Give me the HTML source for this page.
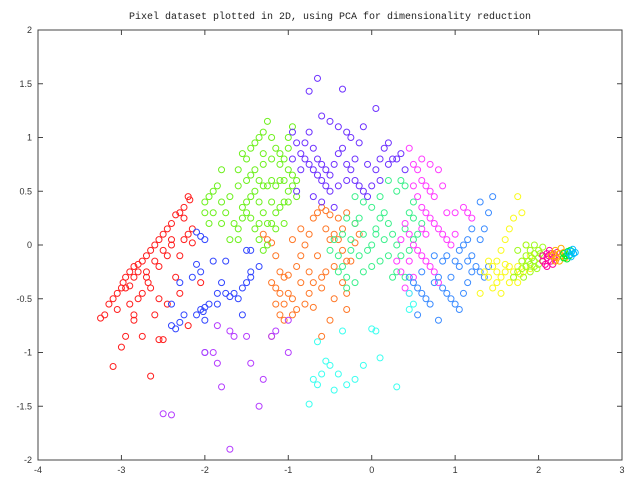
<!DOCTYPE html>
<html><head><meta charset="utf-8"><style>
body{margin:0;background:#fff;}
svg{display:block;}
</style></head><body>
<svg id="chart" width="640" height="480" xmlns="http://www.w3.org/2000/svg">
<rect width="640" height="480" fill="#fff"/>
<text x="330" y="19" text-anchor="middle" font-family="Liberation Mono, monospace" font-size="10" fill="#222">Pixel dataset plotted in 2D, using PCA for dimensionality reduction</text>
<g id="marks"></g>
<g id="axes"></g>
</svg>
<script>
const xTicks=[-4,-3,-2,-1,0,1,2,3];
const yTicks=[-2,-1.5,-1,-0.5,0,0.5,1,1.5,2];
const xTickLabels=["-4","-3","-2","-1","0","1","2","3"];
const yTickLabels=["-2","-1.5","-1","-0.5","0","0.5","1","1.5","2"];
const colors=["rgb(255,30,30)","rgb(50,70,255)","rgb(255,120,40)","rgb(110,240,30)","rgb(110,50,255)","rgb(180,60,255)","rgb(60,240,140)","rgb(255,60,255)","rgb(60,140,255)","rgb(60,255,240)","rgb(250,250,30)","rgb(160,250,30)","rgb(255,0,160)","rgb(255,170,0)","rgb(0,240,40)","rgb(0,190,255)"];
const red=[[-3.25,-0.68],[-3.2,-0.65],[-3.15,-0.55],[-3.1,-0.5],[-3.05,-0.45],[-3.0,-0.4],[-2.98,-0.35],[-2.95,-0.3],[-2.9,-0.25],[-2.85,-0.2],[-2.8,-0.18],[-2.75,-0.15],[-2.7,-0.1],[-2.65,-0.05],[-2.6,0.0],[-2.55,0.05],[-2.5,0.1],[-2.45,0.15],[-2.4,0.2],[-2.35,0.28],[-2.3,0.3],[-2.25,0.35],[-2.2,0.45],[-2.18,0.42],[-2.95,-0.4],[-2.9,-0.38],[-2.85,-0.3],[-2.8,-0.25],[-2.7,-0.25],[-2.7,-0.3],[-2.68,-0.35],[-2.65,-0.4],[-2.75,-0.45],[-2.8,-0.5],[-2.9,-0.55],[-3.05,-0.6],[-2.85,-0.7],[-2.6,-0.65],[-2.45,-0.55],[-2.35,-0.3],[-2.3,-0.1],[-2.25,0.05],[-2.2,0.1],[-2.15,0.15],[-2.4,0.0],[-2.5,-0.05],[-2.6,-0.15],[-2.55,-0.2],[-2.45,-0.1],[-2.75,-0.85],[-3.0,-0.95],[-3.1,-1.13],[-2.65,-1.22],[-2.5,-0.88],[-2.55,-0.88],[-2.2,-0.75],[-2.05,-0.35],[-2.85,-0.65],[-2.4,0.05],[-2.15,0.02],[-2.25,0.25],[-2.55,-0.5],[-2.95,-0.85],[-2.3,-0.45]];
const blue=[[-2.4,-0.75],[-2.35,-0.78],[-2.3,-0.72],[-2.25,-0.65],[-2.4,-0.55],[-2.05,-0.6],[-2.0,-0.58],[-2.02,-0.62],[-1.95,-0.55],[-2.1,-0.65],[-2.0,-0.7],[-2.15,-0.3],[-2.05,-0.25],[-2.1,-0.18],[-2.1,0.12],[-2.05,0.08],[-2.0,0.05],[-1.9,-0.15],[-1.8,-0.35],[-1.75,-0.45],[-1.65,-0.45],[-1.6,-0.5],[-1.55,-0.4],[-1.5,-0.35],[-1.45,-0.3],[-1.45,-0.25],[-1.35,-0.2],[-1.5,-0.05],[-1.45,-0.05],[-1.75,-0.15],[-1.55,-0.65],[-1.7,-0.48],[-1.85,-0.45],[-2.3,-0.35],[-2.0,-1.0],[-1.85,-0.55]];
const orange=[[-1.3,0.1],[-1.25,0.05],[-1.2,0.02],[-1.15,-0.1],[-1.1,-0.25],[-1.05,-0.3],[-1.0,-0.28],[-1.2,-0.35],[-1.15,-0.4],[-1.1,-0.45],[-1.0,-0.45],[-1.05,-0.55],[-0.95,-0.5],[-1.15,-0.55],[-1.1,-0.65],[-1.05,-0.7],[-1.2,-0.85],[-0.9,-0.2],[-0.85,-0.1],[-0.8,0.0],[-0.75,0.1],[-0.7,0.25],[-0.65,0.3],[-0.6,0.35],[-0.55,0.32],[-0.5,0.28],[-0.55,0.15],[-0.5,0.05],[-0.45,0.1],[-0.4,0.05],[-0.35,-0.05],[-0.3,-0.15],[-0.45,-0.2],[-0.55,-0.25],[-0.6,-0.3],[-0.7,-0.35],[-0.75,-0.45],[-0.85,-0.35],[-0.8,-0.55],[-0.7,-0.58],[-0.9,-0.6],[-0.95,-0.65],[-0.6,-0.4],[-0.35,-0.35],[-0.3,-0.45],[-0.25,-0.15],[-0.2,0.02],[-0.15,0.1],[-0.2,0.2],[-0.3,0.3],[-0.65,-0.1],[-0.75,-0.25],[-0.45,-0.5],[-0.3,-0.6],[-0.5,-0.7],[-0.85,0.15],[-0.95,0.05],[-0.35,0.15],[-0.4,0.25],[-0.6,-0.85]];
const green=[[-2.0,0.4],[-1.95,0.45],[-1.9,0.5],[-1.85,0.55],[-1.8,0.4],[-1.75,0.3],[-1.9,0.3],[-2.0,0.3],[-1.95,0.2],[-1.8,0.7],[-1.7,0.45],[-1.65,0.2],[-1.6,0.05],[-1.55,0.85],[-1.5,0.8],[-1.45,0.9],[-1.4,0.95],[-1.35,1.0],[-1.3,1.05],[-1.25,1.15],[-1.2,1.0],[-1.15,0.9],[-1.1,0.85],[-1.05,0.8],[-1.0,0.7],[-0.95,0.65],[-0.9,0.6],[-0.95,0.55],[-1.0,0.5],[-1.05,0.6],[-1.1,0.6],[-1.15,0.55],[-1.2,0.6],[-1.25,0.55],[-1.3,0.55],[-1.35,0.6],[-1.4,0.5],[-1.45,0.45],[-1.5,0.4],[-1.55,0.35],[-1.5,0.3],[-1.45,0.25],[-1.4,0.15],[-1.35,0.05],[-1.3,-0.05],[-1.25,0.0],[-1.2,0.2],[-1.15,0.3],[-1.1,0.35],[-1.05,0.4],[-1.0,0.4],[-1.2,0.4],[-1.3,0.3],[-1.35,0.4],[-1.6,0.55],[-1.6,0.7],[-1.5,0.6],[-1.4,0.7],[-1.3,0.75],[-1.2,0.8],[-1.1,0.75],[-1.0,0.9],[-0.95,1.1],[-1.3,0.85],[-1.6,0.15],[-1.7,0.05],[-1.55,0.25],[-1.25,0.2],[-1.45,0.65],[-1.8,0.2],[-1.05,0.2],[-0.9,0.45],[-1.0,1.0],[-1.35,0.2],[-1.15,0.15]];
const purple=[[-0.95,1.05],[-0.9,0.95],[-0.85,0.85],[-0.8,0.8],[-0.75,0.75],[-0.7,0.7],[-0.65,0.65],[-0.6,0.6],[-0.55,0.55],[-0.5,0.5],[-0.8,0.95],[-0.75,1.05],[-0.7,0.9],[-0.65,0.8],[-0.6,0.75],[-0.55,0.7],[-0.5,0.65],[-0.45,0.75],[-0.4,0.85],[-0.35,0.9],[-0.3,0.75],[-0.25,0.7],[-0.2,0.6],[-0.15,0.55],[-0.1,0.5],[-0.05,0.45],[0.0,0.55],[0.05,0.7],[0.1,0.8],[0.15,0.9],[0.2,0.75],[0.25,0.8],[0.3,0.8],[0.35,0.85],[-0.6,1.2],[-0.5,1.15],[-0.4,1.1],[-0.3,1.05],[-0.25,1.0],[-0.1,1.1],[0.05,1.27],[-0.35,1.45],[-0.65,1.55],[-0.75,1.43],[0.4,0.7],[-0.85,0.7],[-0.95,0.8],[-0.9,0.5],[-0.6,0.4],[-0.3,0.6],[-0.45,0.35],[-0.2,0.8],[-0.15,0.95],[0.1,0.6],[-0.7,0.45],[-0.4,0.55],[-0.05,0.75],[0.2,0.95]];
const violet=[[-2.5,-1.57],[-2.4,-1.58],[-2.0,-1.0],[-1.85,-1.1],[-1.8,-1.32],[-1.7,-0.8],[-1.65,-0.85],[-1.5,-0.85],[-1.45,-1.1],[-1.35,-1.5],[-1.3,-1.25],[-1.2,-0.85],[-1.15,-0.8],[-1.0,-1.0],[-1.0,-0.7],[-1.7,-1.9],[-1.85,-0.75],[-1.9,-1.0]];
const teal=[[-0.5,-0.05],[-0.45,0.05],[-0.4,-0.1],[-0.35,-0.2],[-0.3,-0.3],[-0.25,0.05],[-0.2,0.2],[-0.15,0.25],[-0.1,0.1],[-0.05,-0.05],[0.0,0.0],[0.05,0.1],[0.1,0.25],[0.15,0.3],[0.2,0.2],[0.25,0.1],[0.3,0.0],[0.35,-0.1],[0.4,0.15],[0.45,0.3],[0.5,0.4],[0.4,0.55],[0.35,0.6],[0.3,0.5],[0.2,0.6],[0.1,0.45],[0.0,0.35],[-0.1,0.4],[-0.2,0.45],[-0.3,0.25],[-0.4,-0.25],[-0.3,-0.4],[-0.2,-0.35],[-0.1,-0.25],[0.0,-0.2],[0.1,-0.15],[0.2,-0.1],[0.3,-0.25],[0.4,-0.3],[0.45,-0.05],[0.5,0.05],[0.55,0.1],[0.6,0.2],[0.5,0.25],[-0.15,-0.1],[0.15,0.05],[-0.35,0.1],[0.25,-0.3],[-0.25,-0.05],[0.05,0.15]];
const magenta=[[0.45,0.9],[0.5,0.75],[0.55,0.7],[0.6,0.6],[0.65,0.55],[0.7,0.5],[0.5,0.55],[0.55,0.45],[0.6,0.35],[0.65,0.3],[0.7,0.25],[0.75,0.2],[0.8,0.15],[0.85,0.1],[0.9,0.05],[0.95,0.0],[1.0,0.3],[1.1,0.35],[1.15,0.3],[1.2,0.25],[0.4,0.2],[0.45,0.1],[0.5,0.0],[0.55,-0.05],[0.6,-0.1],[0.65,-0.15],[0.7,-0.2],[0.75,-0.25],[0.8,-0.35],[0.4,-0.4],[0.45,-0.45],[0.5,-0.3],[0.3,-0.15],[0.35,-0.25],[0.6,0.15],[0.75,0.45],[0.85,0.55],[0.8,0.7],[0.7,0.75],[0.6,0.8],[0.65,0.1],[0.9,0.3],[1.0,0.1],[0.35,0.05],[0.45,-0.15]];
const lightBlue=[[0.45,-0.3],[0.5,-0.35],[0.55,-0.4],[0.6,-0.45],[0.65,-0.5],[0.7,-0.55],[0.75,-0.35],[0.8,-0.3],[0.85,-0.4],[0.9,-0.45],[0.95,-0.5],[1.0,-0.55],[1.05,-0.6],[1.1,-0.45],[1.15,-0.35],[1.2,-0.25],[1.25,-0.2],[1.3,-0.25],[1.35,-0.3],[1.4,-0.2],[0.55,-0.65],[0.8,-0.7],[0.95,-0.3],[1.0,-0.15],[1.05,-0.05],[1.1,0.0],[1.15,0.05],[1.2,-0.1],[1.3,0.05],[1.35,0.15],[1.4,0.3],[1.45,0.45],[1.3,0.4],[1.2,0.15],[1.15,-0.15],[1.05,-0.2],[0.9,-0.1],[0.75,-0.1],[0.6,-0.25],[0.85,-0.15]];
const cyan=[[-0.7,-1.25],[-0.65,-1.3],[-0.75,-1.48],[-0.6,-1.2],[-0.55,-1.08],[-0.5,-1.12],[-0.45,-1.35],[-0.4,-1.2],[-0.3,-1.3],[-0.35,-0.8],[0.0,-0.78],[0.05,-0.8],[0.1,-1.05],[0.3,-1.32],[-0.2,-1.25],[-0.1,-1.12],[-0.65,-0.9],[0.45,-0.6],[0.5,-0.55],[0.45,-0.45]];
const yellow=[[1.35,-0.25],[1.4,-0.3],[1.45,-0.2],[1.5,-0.25],[1.55,-0.3],[1.6,-0.25],[1.65,-0.2],[1.7,-0.25],[1.75,-0.2],[1.8,-0.15],[1.85,-0.2],[1.9,-0.22],[1.45,-0.4],[1.5,-0.35],[1.55,-0.45],[1.65,-0.35],[1.7,-0.3],[1.75,-0.35],[1.5,-0.15],[1.55,-0.05],[1.6,0.05],[1.65,0.15],[1.7,0.25],[1.75,0.45],[1.8,0.3],[1.85,0.0],[1.9,-0.1],[1.6,-0.18],[1.4,-0.15],[1.3,-0.45],[1.78,-0.27],[1.82,-0.25]];
const limeGreen=[[1.75,-0.25],[1.8,-0.22],[1.85,-0.2],[1.9,-0.18],[1.95,-0.15],[2.0,-0.12],[2.05,-0.1],[1.85,-0.1],[1.9,-0.05],[1.95,0.0],[2.0,-0.05],[1.8,-0.15],[1.9,-0.25],[1.95,-0.2],[2.0,-0.18],[2.05,-0.15],[1.7,-0.3],[1.85,0.0],[2.05,-0.02],[1.95,-0.08],[1.88,-0.15],[1.92,-0.12],[1.98,-0.22],[2.02,-0.08],[1.82,-0.3],[1.75,-0.05]];
const pink=[[2.05,-0.15],[2.08,-0.18],[2.1,-0.12],[2.12,-0.1],[2.15,-0.08],[2.15,-0.15],[2.18,-0.12],[2.2,-0.1],[2.1,-0.2],[2.13,-0.05],[2.2,-0.15],[2.05,-0.1],[2.17,-0.18],[2.22,-0.07],[2.1,-0.08]];
const amber=[[2.15,-0.1],[2.2,-0.05],[2.22,-0.12],[2.25,-0.08],[2.28,-0.1],[2.3,-0.07],[2.25,-0.15],[2.2,-0.15],[2.27,-0.03],[2.32,-0.12],[2.18,-0.08]];
const brightGreen=[[2.3,-0.08],[2.33,-0.1],[2.35,-0.06],[2.37,-0.1],[2.3,-0.12],[2.38,-0.05],[2.34,-0.13]];
const skyBlue=[[2.35,-0.07],[2.38,-0.09],[2.4,-0.06],[2.42,-0.08],[2.44,-0.07],[2.39,-0.11],[2.41,-0.04]];
const seriesList=[red,blue,orange,green,purple,violet,teal,magenta,lightBlue,cyan,yellow,limeGreen,pink,amber,brightGreen,skyBlue];
const seriesNames=["red","blue","orange","green","purple","violet","teal","magenta","light-blue","cyan","yellow","lime-green","pink","amber","bright-green","sky-blue"];

const L=38,R=622,T=30,B=460,X0=-4,X1=3,Y0=-2,Y1=2;
function sx(v){return L+(v-X0)/(X1-X0)*(R-L);}
function sy(v){return B-(v-Y0)/(Y1-Y0)*(B-T);}
const NS="http://www.w3.org/2000/svg";
const marks=document.getElementById('marks');
seriesList.forEach((s,i)=>{
  const g=document.createElementNS(NS,'g');
  
  
  s.forEach(p=>{
    const c=document.createElementNS(NS,'circle');
    
    
    c.setAttribute('cx',sx(p[0]));c.setAttribute('cy',sy(p[1]));
    c.setAttribute('r',3);c.setAttribute('fill','none');
    c.setAttribute('stroke',colors[i]);c.setAttribute('stroke-width','1');
    g.appendChild(c);
  });
  marks.appendChild(g);
});
const ax=document.getElementById('axes');
const frame=document.createElementNS(NS,'rect');


frame.setAttribute('x',L);frame.setAttribute('y',T);frame.setAttribute('width',R-L);frame.setAttribute('height',B-T);
frame.setAttribute('fill','none');frame.setAttribute('stroke','#444');frame.setAttribute('stroke-width','1');
ax.appendChild(frame);
function line(x1,y1,x2,y2,name){const l=document.createElementNS(NS,'line');
  
  
  l.setAttribute('x1',x1);l.setAttribute('y1',y1);l.setAttribute('x2',x2);l.setAttribute('y2',y2);l.setAttribute('stroke','#444');ax.appendChild(l);}
function txt(x,y,s,anchor,name){const t=document.createElementNS(NS,'text');
  
  
  t.setAttribute('x',x);t.setAttribute('y',y);t.setAttribute('text-anchor',anchor);
  t.setAttribute('font-family','Liberation Sans, sans-serif');t.setAttribute('font-size','9');t.setAttribute('fill','#333');
  t.textContent=s;ax.appendChild(t);}
xTicks.forEach((v,i)=>{const x=sx(v);line(x,B,x,B-5,'x-tick');line(x,T,x,T+5,'x-tick-top');txt(x,473,xTickLabels[i],'middle','x-tick-label');});
yTicks.forEach((v,i)=>{const y=sy(v);line(L,y,L+5,y,'y-tick');line(R,y,R-5,y,'y-tick-right');txt(32,y+3,yTickLabels[i],'end','y-tick-label');});
</script>
</body></html>
